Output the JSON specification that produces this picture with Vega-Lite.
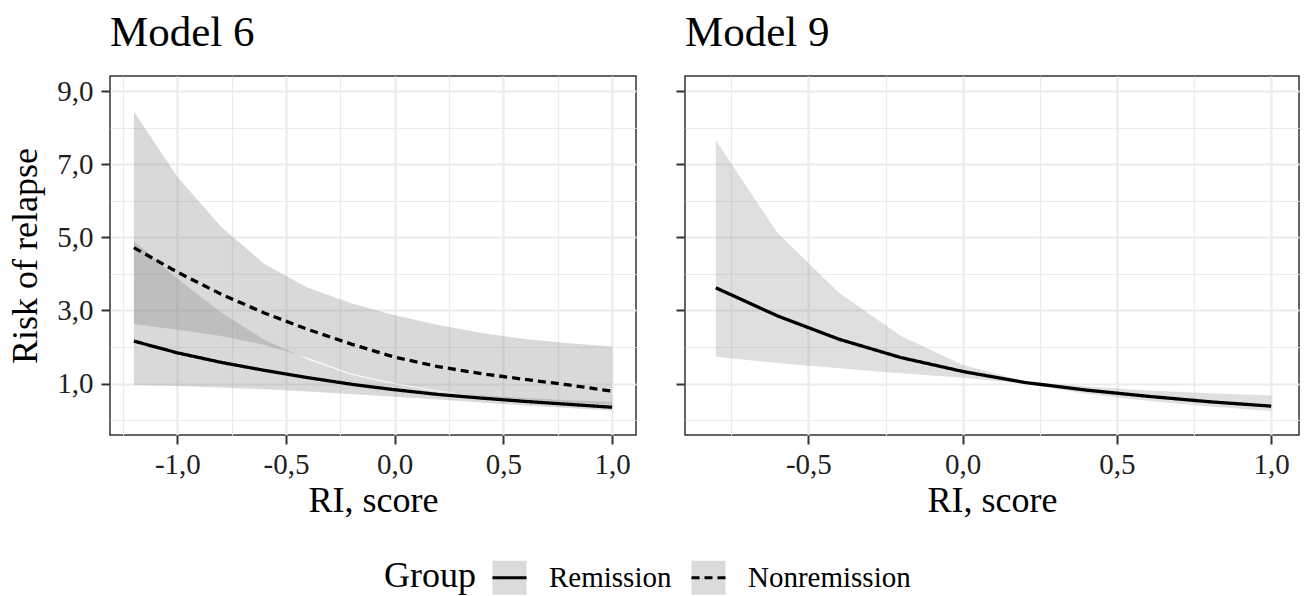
{
  "$schema": "https://vega.github.io/schema/vega-lite/v6.json",
  "padding": {"left": 7, "top": 11, "right": 5, "bottom": 0},
  "bounds": "flush",
  "spacing": 49,
  "config": {
    "font": "Liberation Serif",
    "view": {"stroke": "#333333", "strokeWidth": 1.5},
    "axis": {
      "labelFont": "Liberation Serif", "labelFontSize": 29, "labelColor": "#1f1f1f",
      "titleFont": "Liberation Serif", "titleFontSize": 36, "titleFontWeight": "normal", "titleColor": "#000000",
      "tickColor": "#333333", "tickWidth": 2, "tickSize": 9, "domain": false,
      "gridColor": "#ebebeb", "labelPadding": 6
    },
    "legend": {"labelFont": "Liberation Serif", "labelFontSize": 29, "labelLimit": 400, "labelColor": "#000000",
               "titleFont": "Liberation Serif", "titleFontSize": 36, "titleFontWeight": "normal", "titleColor": "#000000", "titleLimit": 400},
    "title": {"font": "Liberation Serif", "fontSize": 43, "fontWeight": "normal", "anchor": "start", "frame": "group", "offset": 21, "color": "#000000"}
  },
  "datasets": {
    "m6": [
      {"group": "Remission", "x": -1.2, "est": 2.16, "lo": 0.96, "hi": 4.91},
      {"group": "Remission", "x": -1.0, "est": 1.84, "lo": 0.93, "hi": 3.87},
      {"group": "Remission", "x": -0.8, "est": 1.58, "lo": 0.89, "hi": 2.95},
      {"group": "Remission", "x": -0.6, "est": 1.36, "lo": 0.84, "hi": 2.20},
      {"group": "Remission", "x": -0.4, "est": 1.16, "lo": 0.78, "hi": 1.66},
      {"group": "Remission", "x": -0.2, "est": 0.98, "lo": 0.71, "hi": 1.24},
      {"group": "Remission", "x": 0.0, "est": 0.83, "lo": 0.64, "hi": 0.98},
      {"group": "Remission", "x": 0.2, "est": 0.70, "lo": 0.56, "hi": 0.78},
      {"group": "Remission", "x": 0.4, "est": 0.60, "lo": 0.48, "hi": 0.68},
      {"group": "Remission", "x": 0.6, "est": 0.51, "lo": 0.40, "hi": 0.60},
      {"group": "Remission", "x": 0.8, "est": 0.43, "lo": 0.33, "hi": 0.54},
      {"group": "Remission", "x": 1.0, "est": 0.35, "lo": 0.26, "hi": 0.50},
      {"group": "Nonremission", "x": -1.2, "est": 4.72, "lo": 2.63, "hi": 8.45},
      {"group": "Nonremission", "x": -1.0, "est": 4.05, "lo": 2.47, "hi": 6.66},
      {"group": "Nonremission", "x": -0.8, "est": 3.45, "lo": 2.30, "hi": 5.30},
      {"group": "Nonremission", "x": -0.6, "est": 2.93, "lo": 2.06, "hi": 4.27},
      {"group": "Nonremission", "x": -0.4, "est": 2.48, "lo": 1.70, "hi": 3.62},
      {"group": "Nonremission", "x": -0.2, "est": 2.08, "lo": 1.27, "hi": 3.20},
      {"group": "Nonremission", "x": 0.0, "est": 1.72, "lo": 1.01, "hi": 2.87},
      {"group": "Nonremission", "x": 0.2, "est": 1.46, "lo": 0.80, "hi": 2.60},
      {"group": "Nonremission", "x": 0.4, "est": 1.27, "lo": 0.66, "hi": 2.38},
      {"group": "Nonremission", "x": 0.6, "est": 1.11, "lo": 0.56, "hi": 2.22},
      {"group": "Nonremission", "x": 0.8, "est": 0.96, "lo": 0.48, "hi": 2.10},
      {"group": "Nonremission", "x": 1.0, "est": 0.79, "lo": 0.42, "hi": 2.01}
    ],
    "m9": [
      {"group": "Remission", "x": -0.8, "est": 3.62, "lo": 1.73, "hi": 7.66},
      {"group": "Remission", "x": -0.6, "est": 2.85, "lo": 1.56, "hi": 5.12},
      {"group": "Remission", "x": -0.4, "est": 2.21, "lo": 1.42, "hi": 3.48},
      {"group": "Remission", "x": -0.2, "est": 1.71, "lo": 1.28, "hi": 2.30},
      {"group": "Remission", "x": 0.0, "est": 1.33, "lo": 1.16, "hi": 1.51},
      {"group": "Remission", "x": 0.2, "est": 1.03, "lo": 1.00, "hi": 1.06},
      {"group": "Remission", "x": 0.4, "est": 0.82, "lo": 0.72, "hi": 0.92},
      {"group": "Remission", "x": 0.6, "est": 0.65, "lo": 0.53, "hi": 0.81},
      {"group": "Remission", "x": 0.8, "est": 0.50, "lo": 0.37, "hi": 0.73},
      {"group": "Remission", "x": 1.0, "est": 0.38, "lo": 0.25, "hi": 0.67}
    ]
  },
  "hconcat": [
    {
      "title": {"text": "Model 6"},
      "width": 526,
      "height": 359,
      "data": {"name": "m6"},
      "layer": [
        {
          "mark": {"type": "area", "opacity": 0.3},
          "encoding": {
            "x": {"field": "x", "type": "quantitative", "scale": {"domain": [-1.31, 1.11], "nice": false, "zero": false},
                  "axis": {"orient": "top", "values": [-1.25, -0.75, -0.25, 0.25, 0.75], "grid": true, "gridWidth": 1.2, "labels": false, "ticks": false, "domain": false, "title": null}},
            "y": {"field": "lo", "type": "quantitative", "scale": {"domain": [-0.41, 9.42], "nice": false, "zero": false},
                  "axis": {"orient": "right", "values": [0, 2, 4, 6, 8], "grid": true, "gridWidth": 1.2, "labels": false, "ticks": false, "domain": false, "title": null}},
            "y2": {"field": "hi"},
            "fill": {"field": "group", "type": "nominal", "scale": {"domain": ["Remission", "Nonremission"], "range": ["#808080", "#808080"]},
                     "legend": {"orient": "none", "legendX": 274, "legendY": 483, "direction": "horizontal", "titleOrient": "left", "title": "Group",
                                "symbolType": "square", "symbolSize": 1156, "symbolOpacity": 0.28, "symbolStrokeWidth": 3, "symbolStrokeColor": "transparent",
                                "labelOpacity": 0, "titleOpacity": 0, "zindex": 0, "labelOffset": 21, "columnPadding": 13, "titlePadding": 15,
                                "labelFont": "Liberation Serif", "labelFontSize": 29, "labelLimit": 400, "titleFont": "Liberation Serif", "titleFontSize": 36, "titleFontWeight": "normal"}}
          }
        },
        {
          "mark": {"type": "line", "color": "#000000", "strokeWidth": 3.3},
          "encoding": {
            "x": {"field": "x", "type": "quantitative",
                  "axis": {"orient": "bottom", "values": [-1, -0.5, 0, 0.5, 1], "labelExpr": "replace(replace(format(datum.value, '.1f'), '.', ','), '−', '-')",
                           "grid": true, "gridWidth": 2.2, "title": "RI, score", "titlePadding": 4}},
            "y": {"field": "est", "type": "quantitative",
                  "axis": {"orient": "left", "values": [1, 3, 5, 7, 9], "labelExpr": "replace(replace(format(datum.value, '.1f'), '.', ','), '−', '-')",
                           "grid": true, "gridWidth": 2.2, "title": "Risk of relapse", "titlePadding": 12, "labelPadding": 8}},
            "strokeDash": {"field": "group", "type": "nominal", "sort": ["Remission", "Nonremission"], "scale": {"range": [[1, 0], [8, 5]]},
                           "legend": {"orient": "none", "legendX": 274, "legendY": 483, "direction": "horizontal", "titleOrient": "left", "title": "Group",
                                      "symbolType": "stroke", "symbolSize": 1156, "symbolStrokeColor": "#000000", "symbolStrokeWidth": 3, "symbolFillColor": "transparent",
                                      "zindex": 1, "labelOffset": 21, "columnPadding": 13, "titlePadding": 15, "labelColor": "#000000", "titleColor": "#000000",
                                      "labelFont": "Liberation Serif", "labelFontSize": 29, "labelLimit": 400, "titleFont": "Liberation Serif", "titleFontSize": 36, "titleFontWeight": "normal"}}
          }
        }
      ],
      "resolve": {"axis": {"x": "independent", "y": "independent"}}
    },
    {
      "title": {"text": "Model 9"},
      "width": 614,
      "height": 359,
      "data": {"name": "m9"},
      "layer": [
        {
          "mark": {"type": "area", "opacity": 0.25},
          "encoding": {
            "x": {"field": "x", "type": "quantitative", "scale": {"domain": [-0.9, 1.09], "nice": false, "zero": false},
                  "axis": {"orient": "top", "values": [-0.75, -0.25, 0.25, 0.75], "grid": true, "gridWidth": 1.2, "labels": false, "ticks": false, "domain": false, "title": null}},
            "y": {"field": "lo", "type": "quantitative", "scale": {"domain": [-0.41, 9.42], "nice": false, "zero": false},
                  "axis": {"orient": "right", "values": [0, 2, 4, 6, 8], "grid": true, "gridWidth": 1.2, "labels": false, "ticks": false, "domain": false, "title": null}},
            "y2": {"field": "hi"},
            "fill": {"field": "group", "type": "nominal", "scale": {"domain": ["Remission", "Nonremission"], "range": ["#808080", "#808080"]}, "legend": null}
          }
        },
        {
          "mark": {"type": "line", "color": "#000000", "strokeWidth": 3.3},
          "encoding": {
            "x": {"field": "x", "type": "quantitative",
                  "axis": {"orient": "bottom", "values": [-0.5, 0, 0.5, 1], "labelExpr": "replace(replace(format(datum.value, '.1f'), '.', ','), '−', '-')",
                           "grid": true, "gridWidth": 2.2, "title": "RI, score", "titlePadding": 4}},
            "y": {"field": "est", "type": "quantitative",
                  "axis": {"orient": "left", "values": [1, 3, 5, 7, 9], "labels": false, "grid": true, "gridWidth": 2.2, "title": null}},
            "strokeDash": {"field": "group", "type": "nominal", "sort": ["Remission", "Nonremission"], "scale": {"range": [[1, 0], [8, 5]]}, "legend": null}
          }
        }
      ],
      "resolve": {"axis": {"x": "independent", "y": "independent"}}
    }
  ],
  "resolve": {
    "scale": {"fill": "independent", "strokeDash": "independent"},
    "legend": {"fill": "independent", "strokeDash": "independent"}
  }
}
